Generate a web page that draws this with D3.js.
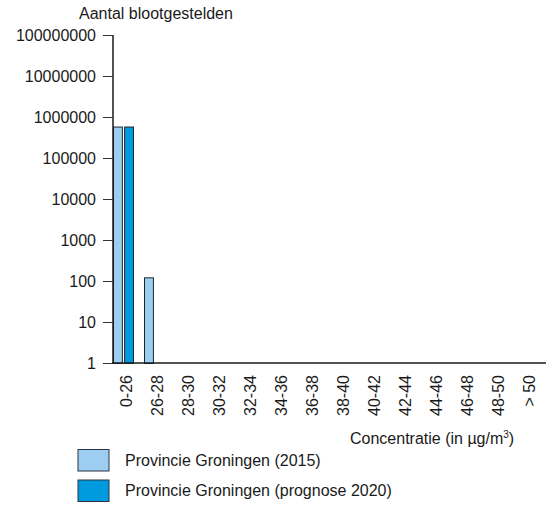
<!DOCTYPE html>
<html lang="nl">
<head>
  <meta charset="UTF-8">
  <title>Aantal blootgestelden</title>
  <script src="https://d3js.org/d3.v7.min.js"></script>
  <style>
    body { margin: 0; background: #fff; }
    svg text {
      font-family: "Liberation Sans", Arial, sans-serif;
      font-size: 16px;
      fill: #1a1a1a;
    }
    .bar { stroke: #1c2630; stroke-width: 1; }
  </style>
</head>
<body>
  <script>
    // categorieën en waarden
    const categories = ["0-26", "26-28", "28-30", "30-32", "32-34", "34-36", "36-38",
      "38-40", "40-42", "42-44", "44-46", "46-48", "48-50", "> 50"];
    const series = ["Provincie Groningen (2015)", "Provincie Groningen (prognose 2020)"];
    const values2015 = [585000, 123, 0, 0, 0, 0, 0, 0, 0, 0, 0, 0, 0, 0];
    const values2020 = [585000, 0, 0, 0, 0, 0, 0, 0, 0, 0, 0, 0, 0, 0];
    const colors = ["#9dcdf1", "#009ade"];
    const yTicks = [1, 10, 100, 1000, 10000, 100000, 1000000, 10000000, 100000000];

    const width = 546, height = 506;

    const svg = d3.select("body").append("svg")
      .attr("width", width)
      .attr("height", height);

    const x0 = d3.scaleBand().domain(categories).range([112, 546]);
    const x1 = d3.scaleBand().domain(series).range([1, 21]).paddingInner(0.2);
    const y = d3.scaleLog().domain([1, 100000000]).range([363, 35]);

    const rows = categories.map((c, i) => ({
      cat: c,
      vals: [values2015[i], values2020[i]]
    }));

    // balken
    const groups = svg.selectAll(".grp")
      .data(rows)
      .enter().append("g")
      .attr("class", "grp")
      .attr("transform", d => `translate(${x0(d.cat)},0)`);

    groups.selectAll("rect")
      .data(d => d.vals.map((v, j) => ({ s: series[j], v: v, j: j })))
      .enter().append("rect")
      .attr("class", "bar")
      .attr("x", d => x1(d.s) + 0.5)
      .attr("width", x1.bandwidth())
      .attr("y", d => d.v > 0 ? y(d.v) + 0.5 : y(1))
      .attr("height", d => d.v > 0 ? y(1) - y(d.v) : 0)
      .attr("fill", d => colors[d.j]);

    // y-as
    const yAxis = d3.axisLeft(y)
      .tickValues(yTicks)
      .tickFormat(d3.format("d"))
      .tickSize(10)
      .tickPadding(7);

    const ya = svg.append("g")
      .attr("transform", "translate(113,0)")
      .call(yAxis);
    ya.select(".domain").attr("stroke", "#1a1a1a").attr("stroke-width", 1.5)
      .attr("d", `M0,${y(100000000)}V${y(1)}`);
    ya.selectAll(".tick line").attr("stroke", "#333");
    ya.selectAll(".tick text").attr("font-size", null).attr("font-family", null);

    // x-as
    svg.append("line")
      .attr("x1", 112).attr("x2", 546)
      .attr("y1", y(1)).attr("y2", y(1))
      .attr("stroke", "#1a1a1a").attr("stroke-width", 1.5);

    svg.append("g").selectAll("text")
      .data(categories)
      .enter().append("text")
      .attr("transform", d => `translate(${x0(d) + x0.bandwidth() / 2 - 1},375) rotate(-90)`)
      .attr("dy", "0.35em")
      .attr("text-anchor", "end")
      .text(d => d);

    // titels
    svg.append("text")
      .attr("x", 79)
      .attr("y", 19)
      .text("Aantal blootgestelden");

    const xt = svg.append("text")
      .attr("x", 350)
      .attr("y", 444);
    xt.append("tspan").text("Concentratie (in µg/m");
    xt.append("tspan").attr("dy", -6).attr("font-size", 10).text("3");
    xt.append("tspan").attr("dy", 6).text(")");

    // legenda
    const legend = svg.append("g").selectAll("g")
      .data(series)
      .enter().append("g")
      .attr("transform", (d, i) => `translate(78,${449.5 + i * 30.5})`);

    legend.append("rect")
      .attr("width", 31)
      .attr("height", 21.5)
      .attr("fill", (d, i) => colors[i])
      .attr("stroke", "#2a3540")
      .attr("stroke-width", 1);

    legend.append("text")
      .attr("x", 47)
      .attr("y", 16)
      .text(d => d);
  </script>
</body>
</html>
